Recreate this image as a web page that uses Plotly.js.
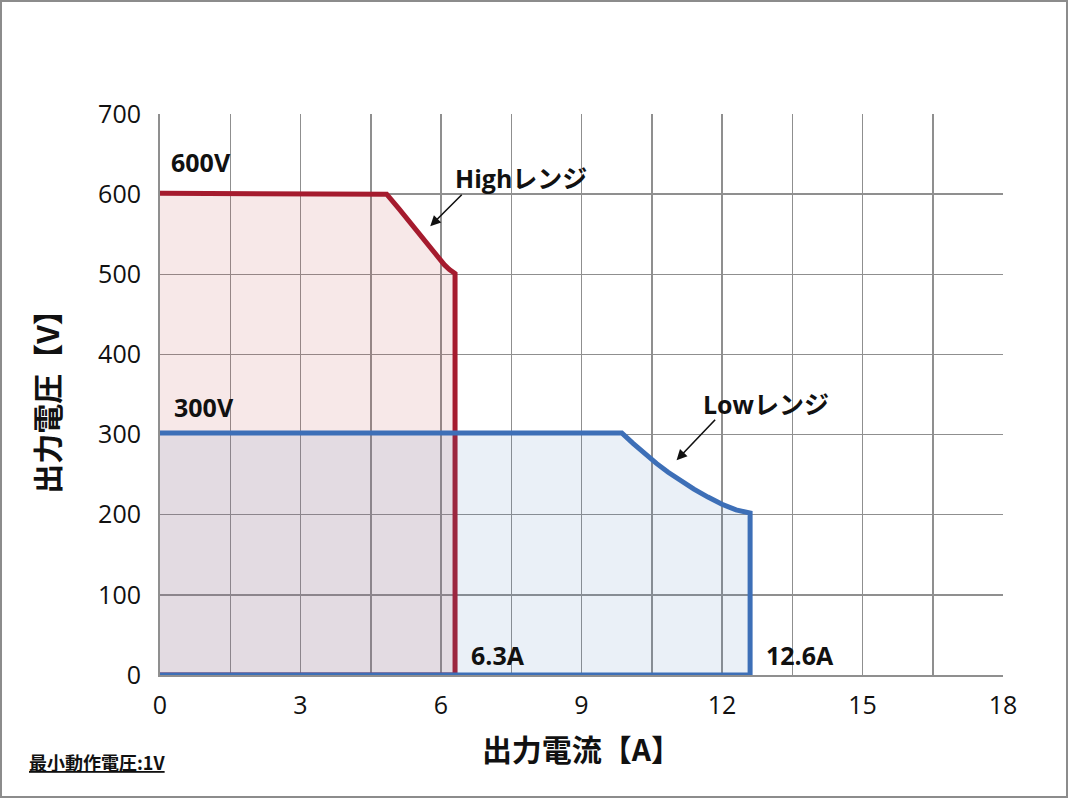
<!DOCTYPE html>
<html>
<head>
<meta charset="utf-8">
<script src="https://cdn.plot.ly/plotly-3.0.1.min.js"></script>
<style>
  body { margin: 0; background: #fff; }
  #wrap { position: relative; width: 1068px; height: 798px; }
  #plot { width: 1068px; height: 798px; }
  #frame {
    position: absolute; left: 0; top: 0; width: 1068px; height: 798px;
    box-sizing: border-box; border: 2px solid #8c8c8c; pointer-events: none;
  }
</style>
</head>
<body>
<div id="wrap">
  <div id="plot"></div>
  <div id="frame"></div>
</div>
<script>
// High range envelope (current A, voltage V), open on the left side
const highCurrent = [0, 4.84, 5.1, 5.35, 5.6, 5.8, 5.95, 6.07, 6.18, 6.3, 6.3, 0];
const highVoltage = [601, 600, 582, 564, 546, 531, 520, 512, 506, 501, 0, 0];

// Low range envelope
const lowCurrent = [0, 9.86, 10.1, 10.35, 10.6, 10.85, 11.1, 11.4, 11.7, 12.0, 12.3, 12.6, 12.6, 0];
const lowVoltage = [302, 302, 289, 276, 264, 253, 243, 232, 222, 213, 206, 202, 0, 0];

const xTicks = [0, 3, 6, 9, 12, 15, 18];
const yTicks = [0, 100, 200, 300, 400, 500, 600, 700];

const latin = "'Open Sans', 'Noto Sans CJK JP', sans-serif";
const jp = "'Noto Sans CJK JP', 'Open Sans', sans-serif";

const traceHigh = {
  x: highCurrent,
  y: highVoltage,
  mode: "lines",
  fill: "tozeroy",
  fillcolor: "rgba(192,80,77,0.13)",
  line: { color: "#a51b2e", width: 5 },
  hoverinfo: "skip",
};

const traceLow = {
  x: lowCurrent,
  y: lowVoltage,
  mode: "lines",
  fill: "tozeroy",
  fillcolor: "rgba(79,129,189,0.12)",
  line: { color: "#3d6fb7", width: 5 },
  hoverinfo: "skip",
};

function label(text, x, y) {
  return {
    text: text, x: x, y: y, xref: "x", yref: "y",
    xanchor: "left", yanchor: "middle", showarrow: false,
    font: { family: latin, size: 25, color: "#111" },
  };
}

function arrow(x, y, ax, ay) {
  return {
    text: "", x: x, y: y, xref: "x", yref: "y", ax: ax, ay: ay,
    showarrow: true, arrowhead: 2, arrowsize: 1.3, arrowwidth: 1.6,
    arrowcolor: "#111",
  };
}

const layout = {
  width: 1068,
  height: 798,
  margin: { l: 160, r: 65, t: 114, b: 123 },
  paper_bgcolor: "#fff",
  plot_bgcolor: "#fff",
  showlegend: false,
  xaxis: {
    range: [0, 18],
    tickvals: xTicks,
    ticktext: xTicks.map(String),
    showgrid: true,
    gridcolor: "#8f8f8f",
    gridwidth: 1.5,
    minor: { dtick: 1.5, showgrid: true, gridcolor: "#8f8f8f", gridwidth: 1.5 },
    showline: true,
    linecolor: "#8f8f8f",
    linewidth: 2,
    zeroline: false,
    ticks: "",
    ticklabelstandoff: 7,
    tickfont: { family: latin, size: 25, color: "#111" },
    title: {
      text: "出力電流【A】",
      font: { family: jp, size: 30, color: "#111", weight: "bold" },
      standoff: 20,
    },
  },
  yaxis: {
    range: [0, 700],
    tickvals: yTicks,
    ticktext: yTicks.map(String),
    showgrid: true,
    gridcolor: "#8f8f8f",
    gridwidth: 1.5,
    showline: true,
    linecolor: "#8f8f8f",
    linewidth: 2,
    zeroline: false,
    ticks: "",
    ticklabelstandoff: 12,
    tickfont: { family: latin, size: 25, color: "#111" },
    title: {
      text: "出力電圧【V】",
      font: { family: jp, size: 30, color: "#111", weight: "bold" },
      standoff: 30,
    },
  },
  annotations: [
    label("<b>600V</b>", 0.2, 640),
    label("<b>300V</b>", 0.25, 334),
    label("<b>Highレンジ</b>", 6.25, 620),
    label("<b>Lowレンジ</b>", 11.55, 338),
    label("<b>6.3A</b>", 6.6, 25),
    label("<b>12.6A</b>", 12.9, 25),
    arrow(5.77, 560, 33, -33),
    arrow(11.03, 268, 40, -42),
    {
      text: "<b><u>最小動作電圧:1V</u></b>",
      xref: "paper", yref: "paper",
      x: -0.158, y: -0.155, xanchor: "left", yanchor: "middle",
      showarrow: false,
      font: { family: jp, size: 18, color: "#111" },
    },
  ],
};

Plotly.newPlot("plot", [traceHigh, traceLow], layout, { staticPlot: true });
</script>
</body>
</html>
